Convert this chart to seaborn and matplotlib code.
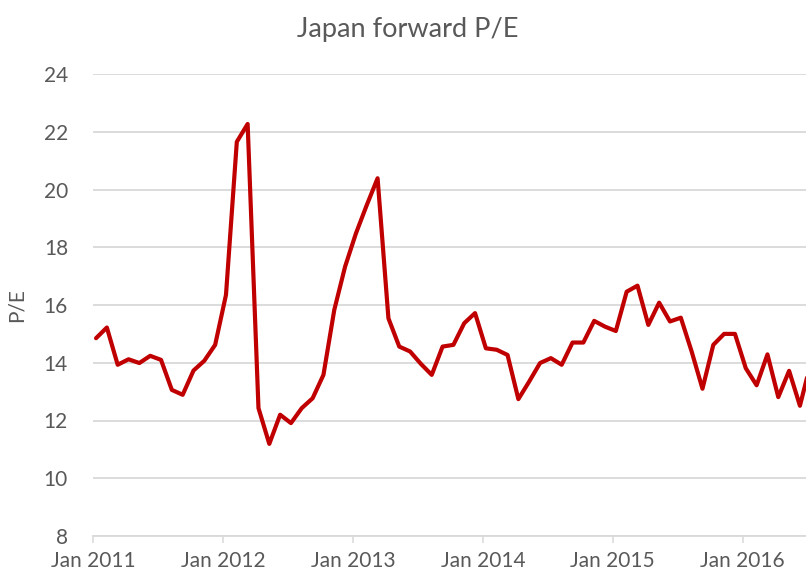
import matplotlib
matplotlib.use("Agg")
import matplotlib.pyplot as plt
import seaborn as sns
import pandas as pd
import numpy as np

# ---- data (monthly, Jan 2011 .. Jul 2016) ----
pe_values = [
    14.85, 15.22, 13.93, 14.12, 13.99, 14.24, 14.10, 13.06, 12.89, 13.73, 14.07, 14.62,  # 2011
    16.35, 21.65, 22.27, 12.43, 11.19, 12.20, 11.91, 12.43, 12.77, 13.58, 15.83, 17.33,  # 2012
    18.48, 19.46, 20.39, 15.54, 14.56, 14.39, 13.96, 13.58, 14.56, 14.62, 15.37, 15.72,  # 2013
    14.50, 14.45, 14.27, 12.74, 13.35, 13.99, 14.16, 13.93, 14.70, 14.70, 15.45, 15.25,  # 2014
    15.10, 16.46, 16.67, 15.31, 16.08, 15.43, 15.56, 14.39, 13.10, 14.62, 15.00, 15.00,  # 2015
    13.81, 13.22, 14.29, 12.81, 13.72, 12.51, 14.00,                                      # 2016
]
month_index = list(range(len(pe_values)))
tick_labels = ["Jan 2011", "Jan 2012", "Jan 2013", "Jan 2014", "Jan 2015", "Jan 2016"]
y_ticks = [8, 10, 12, 14, 16, 18, 20, 22, 24]

df = pd.DataFrame({"month": month_index, "pe": pe_values})

sns.set_theme(style="white")
plt.rcParams["font.family"] = ["Lato", "DejaVu Sans"]

text_color = "#595959"
grid_color = "#D9D9D9"

fig = plt.figure(figsize=(8.06, 5.76), dpi=100)
ax = fig.add_axes([93 / 806, 1 - 536 / 576, 1 - 93 / 806, (536 - 74) / 576])

sns.lineplot(data=df, x="month", y="pe", ax=ax, color="#C00000", linewidth=3.0,
             solid_joinstyle="round", solid_capstyle="round")

offset = 0.28
ax.set_xlim(-offset, 65.56)
ax.set_ylim(8, 24)
ax.set_yticks(y_ticks)
ax.set_yticklabels([str(v) for v in y_ticks])
ax.set_xticks([12 * k - offset for k in range(len(tick_labels))])
ax.set_xticklabels(tick_labels)

ax.grid(axis="y", color=grid_color, linewidth=1.3)
ax.grid(axis="x", visible=False)
ax.set_axisbelow(True)
for side in ["left", "right", "top"]:
    ax.spines[side].set_visible(False)
ax.spines["bottom"].set_color(grid_color)
ax.spines["bottom"].set_linewidth(1.3)

ax.tick_params(axis="y", length=0, pad=18, labelsize=15, labelcolor=text_color)
ax.tick_params(axis="x", length=5, width=1.1, color=grid_color, pad=6,
               labelsize=15, labelcolor=text_color, direction="out", bottom=True)

ax.set_xlabel("")
ax.set_ylabel("P/E", fontsize=15, color=text_color, labelpad=12)

fig.text(407.5 / 806, 1 - 37 / 576, "Japan forward P/E", ha="center", va="baseline",
         fontsize=19.5, color=text_color)

fig.savefig("out.png", dpi=100)
